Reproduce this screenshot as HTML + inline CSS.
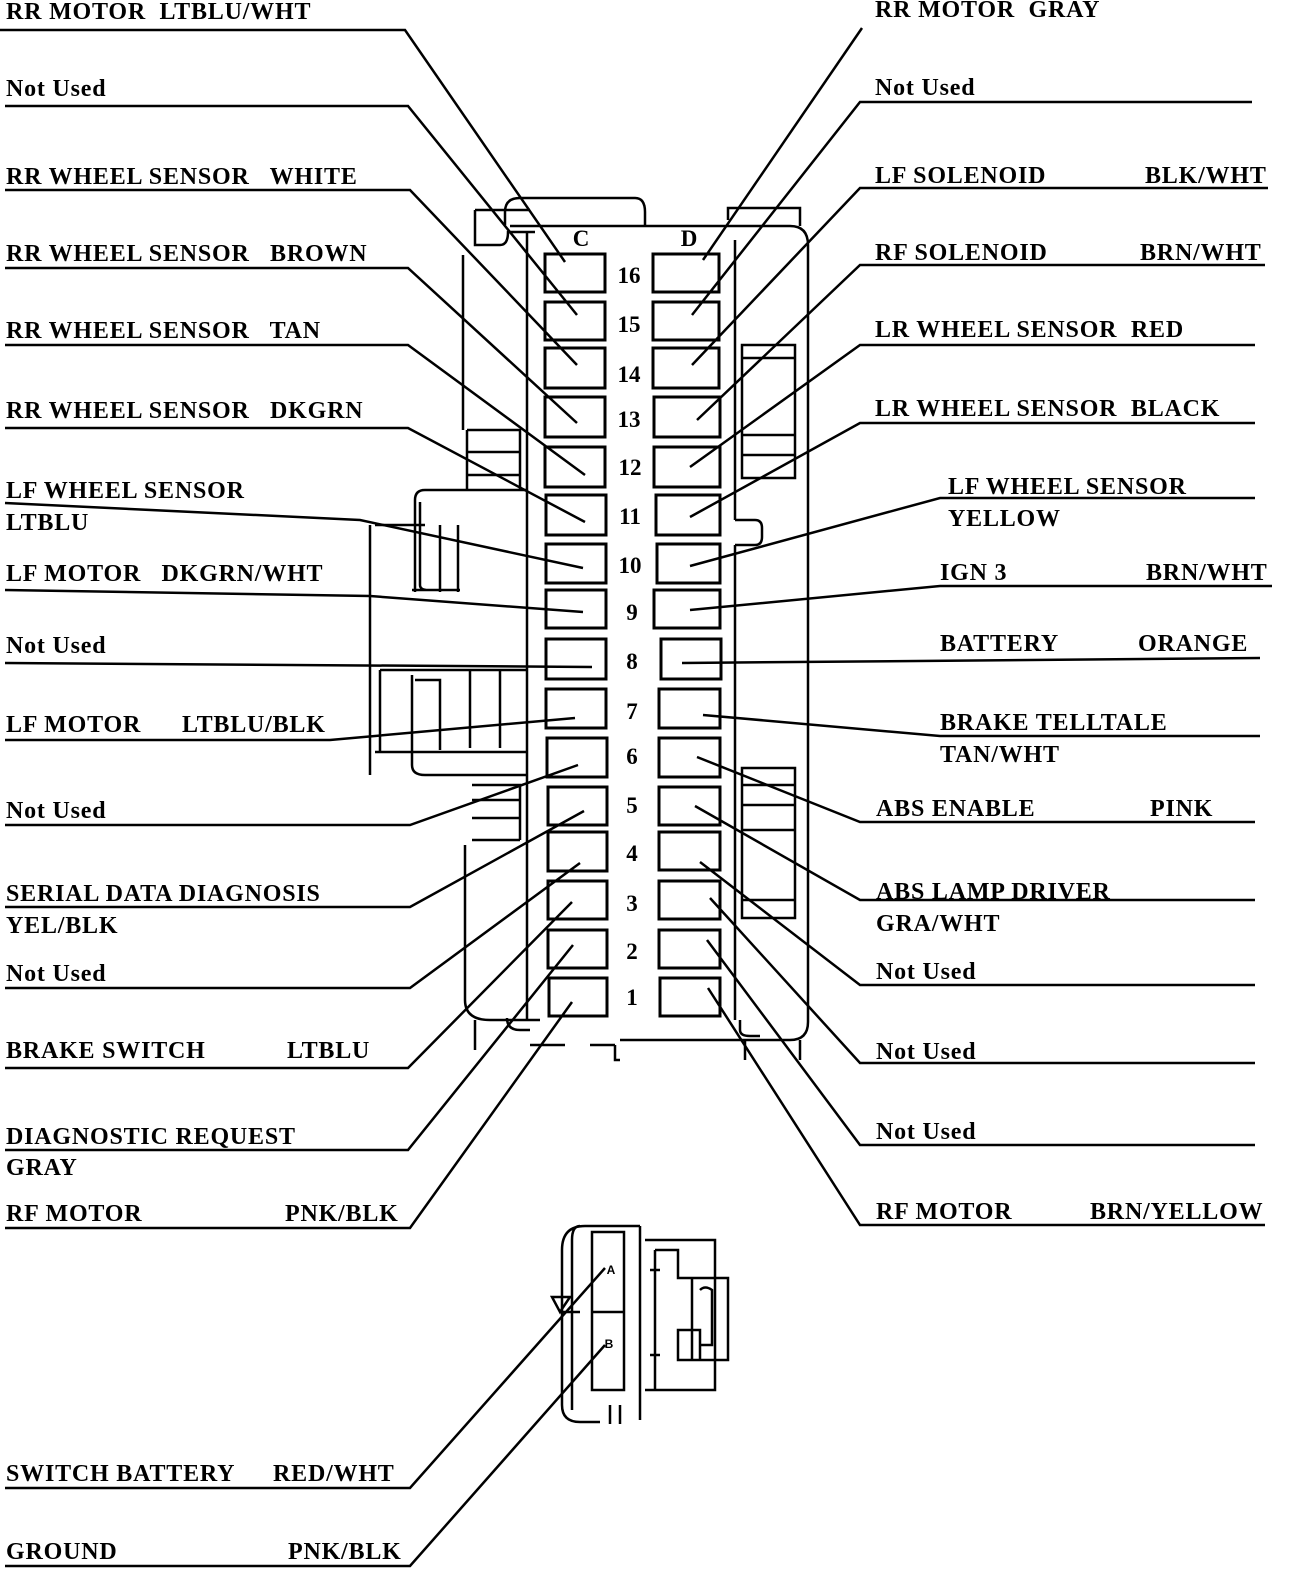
<!DOCTYPE html>
<html><head><meta charset="utf-8"><style>
html,body{margin:0;padding:0;background:#fff;}
svg{display:block;}
text{font-family:"Liberation Serif",serif;font-weight:bold;font-size:24px;letter-spacing:0.8px;fill:#000;white-space:pre;}
.n text{font-size:23px;letter-spacing:0;}
</style></head><body>
<svg width="1312" height="1580" viewBox="0 0 1312 1580" xmlns="http://www.w3.org/2000/svg">
<g fill="none" stroke="#000" stroke-width="2.5">
<path d="M505 225 L505 212 Q505 198 520 198 L635 198 Q645 198 645 212 L645 226"/>
<path d="M510 226 L790 226 Q808 226 808 245 L808 1022 Q808 1040 790 1040 L620 1040"/>
<path d="M527 232 L527 1020"/>
<path d="M735 240 L735 520 M735 545 L735 1020"/>
<path d="M735 520 L755 520 Q762 520 762 528 L762 537 Q762 545 755 545 L735 545"/>
<path d="M475 210 L475 245 L500 245 Q508 245 508 232 L535 232 M475 210 L530 210"/>
<path d="M728 220 L728 208 L800 208 L800 226"/>
<path d="M463 255 L463 430"/>
<path d="M467 430 L520 430 L520 490 M467 430 L467 490 M467 452 L520 452 M467 475 L520 475"/>
<path d="M527 490 L425 490 Q415 490 415 500 L415 592 M412 590 L460 590 M420 502 L420 585 Q420 590 428 590"/>
<path d="M370 525 L370 775 M375 525 L425 525 M458 525 L458 592 M440 525 L440 592"/>
<path d="M412 675 L412 765 Q412 775 425 775 L527 775 M380 670 L527 670 M380 670 L380 752 M415 680 L440 680 L440 750 M470 670 L470 748 M500 670 L500 748 M375 752 L527 752"/>
<path d="M472 785 L520 785 L520 840 M472 800 L520 800 M472 818 L520 818 M472 840 L520 840"/>
<path d="M465 845 L465 1000 Q465 1020 490 1020 L540 1020"/>
<path d="M507 1018 Q507 1030 520 1030 L530 1030 M475 1020 L475 1050 M530 1045 L565 1045 M590 1045 L615 1045 M615 1045 L615 1060 L620 1060"/>
<path d="M740 1020 L740 1030 Q740 1036 750 1036 L760 1036 M745 1040 L745 1060 M800 1040 L800 1060"/>
<path d="M742 768 L795 768 L795 918 L742 918 Z M742 785 L795 785 M742 805 L795 805 M742 830 L795 830 M742 900 L795 900"/>
<path d="M742 345 L795 345 L795 478 L742 478 Z M742 358 L795 358 M742 435 L795 435 M742 455 L795 455"/>
</g>
<g fill="none" stroke="#000" stroke-width="3">
<rect x="545" y="254" width="60" height="38"/><rect x="653" y="254" width="66" height="38"/>
<rect x="545" y="302" width="60" height="38"/><rect x="653" y="302" width="66" height="38"/>
<rect x="545" y="348" width="60" height="40"/><rect x="653" y="348" width="66" height="40"/>
<rect x="545" y="397" width="60" height="40"/><rect x="654" y="397" width="66" height="40"/>
<rect x="545" y="447" width="60" height="40"/><rect x="654" y="447" width="66" height="40"/>
<rect x="546" y="495" width="60" height="40"/><rect x="656" y="495" width="64" height="40"/>
<rect x="546" y="544" width="60" height="39"/><rect x="657" y="544" width="63" height="39"/>
<rect x="546" y="590" width="60" height="38"/><rect x="654" y="590" width="66" height="38"/>
<rect x="546" y="639" width="60" height="40"/><rect x="661" y="639" width="60" height="40"/>
<rect x="546" y="689" width="60" height="39"/><rect x="659" y="689" width="61" height="39"/>
<rect x="547" y="738" width="60" height="39"/><rect x="659" y="738" width="61" height="39"/>
<rect x="548" y="787" width="59" height="38"/><rect x="659" y="787" width="61" height="38"/>
<rect x="548" y="832" width="59" height="39"/><rect x="659" y="832" width="61" height="38"/>
<rect x="548" y="881" width="59" height="38"/><rect x="659" y="881" width="61" height="38"/>
<rect x="548" y="930" width="59" height="38"/><rect x="659" y="930" width="61" height="38"/>
<rect x="549" y="978" width="58" height="38"/><rect x="660" y="978" width="60" height="38"/>
</g>
<g text-anchor="middle" class="n">
<text x="581" y="246">C</text><text x="689" y="246">D</text>
<text x="629" y="283">16</text><text x="629" y="332">15</text><text x="629" y="382">14</text><text x="629" y="427">13</text>
<text x="630" y="475">12</text><text x="630" y="524">11</text><text x="630" y="573">10</text><text x="632" y="620">9</text>
<text x="632" y="669">8</text><text x="632" y="719">7</text><text x="632" y="764">6</text><text x="632" y="813">5</text>
<text x="632" y="861">4</text><text x="632" y="911">3</text><text x="632" y="959">2</text><text x="632" y="1005">1</text>
</g>
<g fill="none" stroke="#000" stroke-width="2.5">
<polyline points="0,30 405,30 565,262"/>
<polyline points="5,106 408,106 577,315"/>
<polyline points="5,190 410,190 577,365"/>
<polyline points="5,268 408,268 577,423"/>
<polyline points="5,345 408,345 585,475"/>
<polyline points="5,428 408,428 585,522"/>
<polyline points="5,503 360,520 583,568"/>
<polyline points="5,590 370,596 583,612"/>
<polyline points="5,663 592,667"/>
<polyline points="5,740 330,740 575,718"/>
<polyline points="5,825 410,825 578,765"/>
<polyline points="5,907 410,907 584,811"/>
<polyline points="5,988 410,988 580,863"/>
<polyline points="5,1068 408,1068 572,902"/>
<polyline points="5,1150 408,1150 573,945"/>
<polyline points="5,1228 410,1228 572,1002"/>
<polyline points="5,1488 410,1488 605,1268"/>
<polyline points="5,1566 410,1566 605,1345"/>
<polyline points="862,28 703,260"/>
<polyline points="1252,102 860,102 692,315"/>
<polyline points="1268,188 860,188 692,365"/>
<polyline points="1265,265 860,265 697,420"/>
<polyline points="1255,345 860,345 690,467"/>
<polyline points="1255,423 860,423 690,517"/>
<polyline points="1255,498 940,498 690,566"/>
<polyline points="1272,586 940,586 690,610"/>
<polyline points="1260,658 682,663"/>
<polyline points="1260,736 940,736 703,715"/>
<polyline points="1255,822 860,822 697,757"/>
<polyline points="1255,900 860,900 695,806"/>
<polyline points="1255,985 860,985 700,862"/>
<polyline points="1255,1063 860,1063 710,898"/>
<polyline points="1255,1145 860,1145 707,940"/>
<polyline points="1265,1225 860,1225 708,988"/>
</g>
<g fill="none" stroke="#000" stroke-width="2.5">
<path d="M640 1226 L585 1226 Q562 1226 562 1250 L562 1405 Q562 1422 580 1422 L600 1422"/>
<path d="M580 1226 Q572 1226 572 1240 L572 1410"/>
<rect x="592" y="1232" width="32" height="158"/>
<path d="M592 1312 L624 1312"/>
<path d="M640 1226 L640 1420 M610 1405 L610 1424 M620 1405 L620 1424"/>
<path d="M645 1240 L715 1240 L715 1390 L645 1390 M655 1250 L655 1390 M655 1250 L678 1250 L678 1278 L728 1278 L728 1360 L678 1360 L678 1330 L700 1330 L700 1360 M692 1278 L692 1360 M700 1290 Q705 1285 712 1290 L712 1345 L700 1345 M650 1270 L660 1270 M650 1355 L660 1355"/>
<path d="M552 1297 L570 1297 L560 1312 Z M560 1312 L580 1312"/>
</g>
<text x="611" y="1274" text-anchor="middle" style="font-family:'Liberation Sans',sans-serif;font-size:12px;letter-spacing:0">A</text>
<text x="609" y="1348" text-anchor="middle" style="font-family:'Liberation Sans',sans-serif;font-size:12px;letter-spacing:0">B</text>
<g>
<text x="6" y="19">RR MOTOR  LTBLU/WHT</text>
<text x="6" y="96">Not Used</text>
<text x="6" y="184">RR WHEEL SENSOR   WHITE</text>
<text x="6" y="261">RR WHEEL SENSOR   BROWN</text>
<text x="6" y="338">RR WHEEL SENSOR   TAN</text>
<text x="6" y="418">RR WHEEL SENSOR   DKGRN</text>
<text x="6" y="498">LF WHEEL SENSOR</text>
<text x="6" y="530">LTBLU</text>
<text x="6" y="581">LF MOTOR   DKGRN/WHT</text>
<text x="6" y="653">Not Used</text>
<text x="6" y="732">LF MOTOR</text><text x="182" y="732">LTBLU/BLK</text>
<text x="6" y="818">Not Used</text>
<text x="6" y="901">SERIAL DATA DIAGNOSIS</text>
<text x="6" y="933">YEL/BLK</text>
<text x="6" y="981">Not Used</text>
<text x="6" y="1058">BRAKE SWITCH</text><text x="287" y="1058">LTBLU</text>
<text x="6" y="1144">DIAGNOSTIC REQUEST</text>
<text x="6" y="1175">GRAY</text>
<text x="6" y="1221">RF MOTOR</text><text x="285" y="1221">PNK/BLK</text>
<text x="6" y="1481">SWITCH BATTERY</text><text x="273" y="1481">RED/WHT</text>
<text x="6" y="1559">GROUND</text><text x="288" y="1559">PNK/BLK</text>
<text x="875" y="17">RR MOTOR  GRAY</text>
<text x="875" y="95">Not Used</text>
<text x="875" y="183">LF SOLENOID</text><text x="1145" y="183">BLK/WHT</text>
<text x="875" y="260">RF SOLENOID</text><text x="1140" y="260">BRN/WHT</text>
<text x="875" y="337">LR WHEEL SENSOR  RED</text>
<text x="875" y="416">LR WHEEL SENSOR  BLACK</text>
<text x="948" y="494">LF WHEEL SENSOR</text>
<text x="948" y="526">YELLOW</text>
<text x="940" y="580">IGN 3</text><text x="1146" y="580">BRN/WHT</text>
<text x="940" y="651">BATTERY</text><text x="1138" y="651">ORANGE</text>
<text x="940" y="730">BRAKE TELLTALE</text>
<text x="940" y="762">TAN/WHT</text>
<text x="876" y="816">ABS ENABLE</text><text x="1150" y="816">PINK</text>
<text x="876" y="899">ABS LAMP DRIVER</text>
<text x="876" y="931">GRA/WHT</text>
<text x="876" y="979">Not Used</text>
<text x="876" y="1059">Not Used</text>
<text x="876" y="1139">Not Used</text>
<text x="876" y="1219">RF MOTOR</text><text x="1090" y="1219">BRN/YELLOW</text>
</g>
</svg>
</body></html>
